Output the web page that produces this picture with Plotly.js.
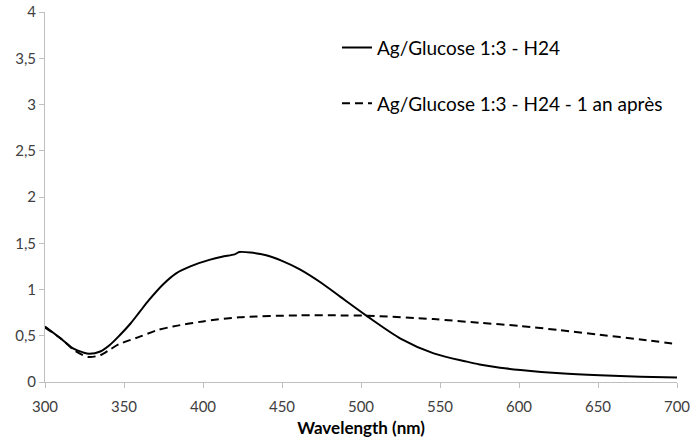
<!DOCTYPE html>
<html>
<head>
<meta charset="utf-8">
<script src="https://cdn.plot.ly/plotly-3.0.1.min.js"></script>
<style>html,body{margin:0;padding:0;background:#fff;}#chart{width:692px;height:443px;}</style>
</head>
<body>
<div id="chart"></div>
<script>
const wlSolid = [300,310,318,324,328,335,341,347,354,360,366,375,383,392,404,412,420,423,430,440,450,461,475,487,504,525,546,567,575,588,601,626,651,677,700];
const absSolid = [0.60,0.47,0.36,0.32,0.305,0.33,0.40,0.50,0.63,0.76,0.89,1.06,1.175,1.25,1.32,1.355,1.38,1.405,1.40,1.37,1.31,1.22,1.07,0.92,0.71,0.47,0.31,0.22,0.19,0.155,0.13,0.094,0.072,0.057,0.048];
const wlDash = [300,310,318,324,328,335,341,347,360,371,381,400,423,461,487,504,546,575,601,626,651,677,700];
const absDash = [0.59,0.47,0.35,0.29,0.27,0.29,0.35,0.41,0.49,0.56,0.60,0.655,0.70,0.72,0.72,0.717,0.68,0.64,0.605,0.56,0.51,0.46,0.41];
const seriesNames = ["Ag/Glucose 1:3 - H24", "Ag/Glucose 1:3 - H24 - 1 an après"];
const xTicks = [300,350,400,450,500,550,600,650,700];
const yTicks = [0,0.5,1,1.5,2,2.5,3,3.5,4];
const xTitle = "Wavelength (nm)";

const traces = [
  {x: wlSolid, y: absSolid, name: seriesNames[0], mode: 'lines', legendgroup: 'a',
   line: {color: '#000', width: 2, shape: 'spline', smoothing: 0.8}},
  {x: wlDash, y: absDash, name: seriesNames[1], mode: 'lines', legendgroup: 'b',
   line: {color: '#000', width: 2, dash: '8px,5px', shape: 'spline', smoothing: 0.8}}
];
const layout = {
  width: 692, height: 443,
  margin: {l: 45, r: 15, t: 12, b: 61},
  paper_bgcolor: '#fff', plot_bgcolor: '#fff',
  separators: ', ',
  font: {family: 'Lato, sans-serif', color: '#404040', size: 13},
  showlegend: true,
  legend: {x: 0.462, y: 0.955, xanchor: 'left', yanchor: 'top', tracegroupgap: 28,
    font: {size: 19, color: '#000'}, bgcolor: 'rgba(0,0,0,0)', itemwidth: 30},
  xaxis: {range: [300, 700], tickvals: xTicks, showgrid: false, zeroline: false,
    showline: true, linecolor: '#bfbfbf', linewidth: 1, ticks: 'outside', ticklen: 5, tickcolor: '#bfbfbf',
    ticklabelstandoff: 6,
    tickfont: {size: 15, color: '#404040'},
    title: {text: '<b>' + xTitle + '</b>', font: {size: 17, color: '#000'}, standoff: 8}},
  yaxis: {range: [0, 4], tickvals: yTicks, showgrid: false, zeroline: false,
    showline: true, linecolor: '#bfbfbf', linewidth: 1, ticks: 'outside', ticklen: 5, tickcolor: '#bfbfbf',
    tickfont: {size: 15, color: '#404040'}}
};
Plotly.newPlot('chart', traces, layout, {displayModeBar: false, staticPlot: true});
</script>
</body>
</html>
